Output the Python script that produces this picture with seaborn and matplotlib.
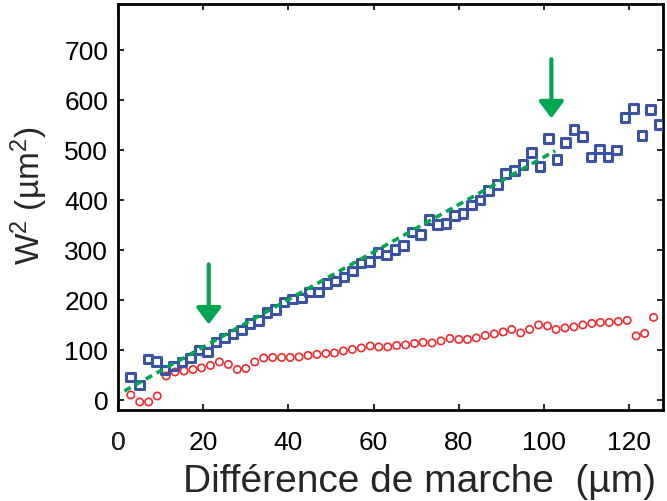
import matplotlib
matplotlib.use("Agg")
import matplotlib.pyplot as plt
import matplotlib.transforms as mtransforms
import pandas as pd
import seaborn as sns

# carres bleus (W^2 mesure)
x_carres = [3, 5, 7, 9, 11, 13, 15, 17, 19, 21, 23, 25, 27, 29, 31, 33, 35, 37, 39, 41,
            43, 45, 47, 49, 51, 53, 55, 57, 59, 61, 63, 65, 67, 69, 71, 73, 75, 77, 79, 81,
            83, 85, 87, 89, 91, 93, 95, 97, 99, 101, 103, 105, 107, 109, 111, 113, 115, 117, 119, 121,
            123, 125, 127]
w2_carres = [46, 30, 82, 77, 60, 68, 76, 84, 100, 96, 116, 124, 132, 140, 153, 159, 175, 181, 196, 202,
             204, 216, 216, 233, 238, 246, 258, 274, 277, 295, 290, 301, 309, 336, 331, 361, 351, 353, 369, 373,
             390, 400, 419, 431, 453, 459, 471, 495, 467, 523, 481, 514, 540, 527, 486, 502, 486, 500, 564, 582,
             529, 580, 550]

# cercles rouges
x_cercles = [3.0, 5.1, 7.2, 9.2, 11.3, 13.4, 15.5, 17.6, 19.6, 21.7,
             23.8, 25.9, 28.0, 30.0, 32.1, 34.2, 36.3, 38.4, 40.4, 42.5,
             44.6, 46.7, 48.8, 50.8, 52.9, 55.0, 57.1, 59.2, 61.2, 63.3,
             65.4, 67.5, 69.6, 71.6, 73.7, 75.8, 77.9, 80.0, 82.0, 84.1,
             86.2, 88.3, 90.4, 92.4, 94.5, 96.6, 98.7, 100.8, 102.8, 104.9,
             107.0, 109.1, 111.2, 113.2, 115.3, 117.4, 119.5, 121.6, 123.6, 125.7]
w2_cercles = [10, -4, -4, 8, 48, 56, 58, 61, 64, 69,
              76, 71, 61, 63, 76, 84, 85, 85, 85, 86,
              89, 91, 93, 94, 98, 101, 104, 108, 106, 106,
              109, 110, 113, 115, 114, 118, 123, 121, 121, 124,
              129, 132, 136, 141, 134, 141, 150, 148, 141, 144,
              146, 150, 153, 155, 155, 157, 159, 128, 133, 165]

# ajustement lineaire
x_fit = [1.5, 102.6]
w2_fit = [18, 498]

# fleches
fleches_x = [21.3, 101.7]
fleches_haut = [271, 681]
fleches_bas = [151, 563]

xticks = [0, 20, 40, 60, 80, 100, 120]
yticks = [0, 100, 200, 300, 400, 500, 600, 700]

bleu = "#3A53A4"
rouge = "#EE2B2F"
vert = "#00A651"

sns.set_style("ticks")
plt.rcParams["font.family"] = ["Liberation Sans", "DejaVu Sans"]
plt.rcParams["mathtext.fontset"] = "custom"
plt.rcParams["mathtext.rm"] = "Liberation Sans"
plt.rcParams["mathtext.it"] = "Liberation Sans"

df_carres = pd.DataFrame({"x": x_carres, "w2": w2_carres})
df_cercles = pd.DataFrame({"x": x_cercles, "w2": w2_cercles})
df_fit = pd.DataFrame({"x": x_fit, "w2": w2_fit})

fig = plt.figure(figsize=(6.67, 5.02), dpi=100)
ax = fig.add_axes([0.1769, 0.1813, 0.8171, 0.8094])

sns.scatterplot(data=df_cercles, x="x", y="w2", marker="o", s=28, facecolor="none",
                edgecolor=rouge, linewidth=1.2, ax=ax, zorder=3)
sns.scatterplot(data=df_carres, x="x", y="w2", marker="s", s=38, facecolor="none",
                edgecolor=bleu, linewidth=2.2, ax=ax, zorder=3)
sns.lineplot(data=df_fit, x="x", y="w2", color=vert, lw=2.6, ls=(0, (2.0, 1.4)), ax=ax, zorder=4)

for xa, yh, yb in zip(fleches_x, fleches_haut, fleches_bas):
    ax.annotate("", xy=(xa, yb), xytext=(xa, yh),
                arrowprops=dict(arrowstyle="-|>,head_length=1.0,head_width=0.75",
                                color=vert, lw=3.0, shrinkA=0, shrinkB=0))

ax.set_xlim(1.3, 127.9)
ax.set_ylim(-20, 792)
ax.set_xticks(xticks)
ax.set_yticks(yticks)

for s in ax.spines.values():
    s.set_linewidth(2.0)
    s.set_color("black")
ax.tick_params(axis="both", direction="in", length=4.5, width=1.2, top=True, right=True,
               labelsize=19, labelcolor="black", color="black")
ax.tick_params(axis="x", pad=14.5)
ax.tick_params(axis="y", pad=7)

# etiquette "0" (hors des limites de l'axe)
trans = mtransforms.offset_copy(ax.get_xaxis_transform(), fig=fig, y=-14.5, units="points")
ax.text(0, 0, "0", transform=trans, ha="center", va="top", fontsize=19, clip_on=False)

ax.set_xlabel("Différence de marche  (µm)", fontsize=28)
ax.set_ylabel("W$^2$ (µm$^2$)", fontsize=24)
ax.xaxis.set_label_coords(0.554, -0.13)
ax.yaxis.set_label_coords(-0.125, 0.53)

fig.savefig("out.png", dpi=100)
